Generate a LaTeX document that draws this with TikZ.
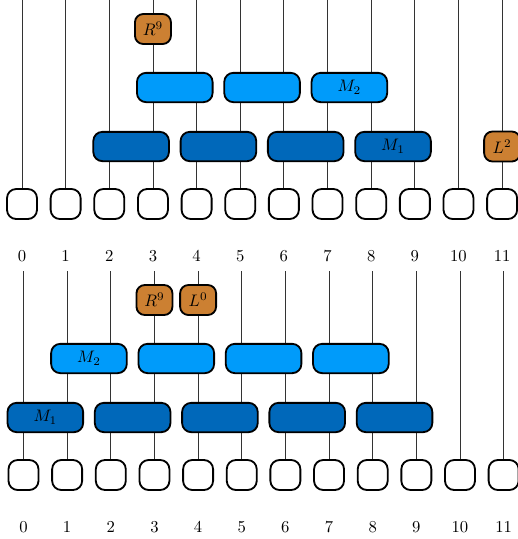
\documentclass[tikz,border=0pt]{standalone}
\usetikzlibrary{backgrounds}
\definecolor{orng}{RGB}{204,128,50}
\definecolor{lblue}{RGB}{0,155,250}
\definecolor{dblue}{RGB}{0,104,186}
\begin{document}
\begin{tikzpicture}[x=0.6pt,y=-0.6pt,
  qb/.style={draw,line width=1.1pt,rounded corners=5.5pt,fill=white,minimum width=18pt,minimum height=18pt,inner sep=0pt},
  gate/.style={draw,line width=1.1pt,rounded corners=5.5pt,minimum width=45.4pt,minimum height=17.6pt,inner sep=0pt},
  gA/.style={gate,fill=dblue},
  gB/.style={gate,fill=lblue},
  ph/.style={draw,line width=1.1pt,rounded corners=5pt,fill=orng,minimum width=21.6pt,minimum height=18pt,inner sep=0pt},
  wire/.style={black!80,line width=0.5pt},
  lbl/.style={inner sep=0pt}]
\clip (0,0) rectangle (518,539);
% ---------- top diagram ----------
\foreach \i in {0,...,11}{
  \node[qb] (a\i) at ({22+43.65*\i},204) {};
  \node[lbl] (la\i) at ({22+43.65*\i},256) {\i};
  \coordinate (ta\i) at ({22+43.65*\i},0);
}
\node[gA] (a23) at ({22+43.65*2.5},146.5) {};
\node[gA] (a45) at ({22+43.65*4.5},146.5) {};
\node[gA] (a67) at ({22+43.65*6.5},146.5) {};
\node[gA] (a89) at ({22+43.65*8.5},146.5) {$M_1$};
\node[ph] (aL) at ({22+43.65*11},146.5) {$L^2$};
\node[gB] (a34) at ({22+43.65*3.5},87.5) {};
\node[gB] (a56) at ({22+43.65*5.5},87.5) {};
\node[gB] (a78) at ({22+43.65*7.5},87.5) {$M_2$};
\node[ph] (aR) at ({22+43.65*3},29) {$R^9$};
% ---------- bottom diagram ----------
\foreach \i in {0,...,11}{
  \node[qb] (b\i) at ({23.5+43.65*\i},475) {};
  \node[lbl] (lb\i) at ({23.5+43.65*\i},527) {\i};
  \coordinate (tb\i) at ({23.5+43.65*\i},271);
}
\node[gA] (b01) at ({23.5+43.65*0.5},417.5) {$M_1$};
\node[gA] (b23) at ({23.5+43.65*2.5},417.5) {};
\node[gA] (b45) at ({23.5+43.65*4.5},417.5) {};
\node[gA] (b67) at ({23.5+43.65*6.5},417.5) {};
\node[gA] (b89) at ({23.5+43.65*8.5},417.5) {};
\node[gB] (b12) at ({23.5+43.65*1.5},358.5) {$M_2$};
\node[gB] (b34) at ({23.5+43.65*3.5},358.5) {};
\node[gB] (b56) at ({23.5+43.65*5.5},358.5) {};
\node[gB] (b78) at ({23.5+43.65*7.5},358.5) {};
\node[ph] (bR) at ({23.5+43.65*3},300) {$R^9$};
\node[ph] (bL) at ({23.5+43.65*4},300) {$L^0$};
% ---------- wires ----------
\begin{scope}[on background layer]
\foreach \i in {0,...,11}{
  \draw[wire] (a\i.north) -- (ta\i);
  \draw[wire] (b\i.north) -- (tb\i);
}
\end{scope}
\end{tikzpicture}
\end{document}
